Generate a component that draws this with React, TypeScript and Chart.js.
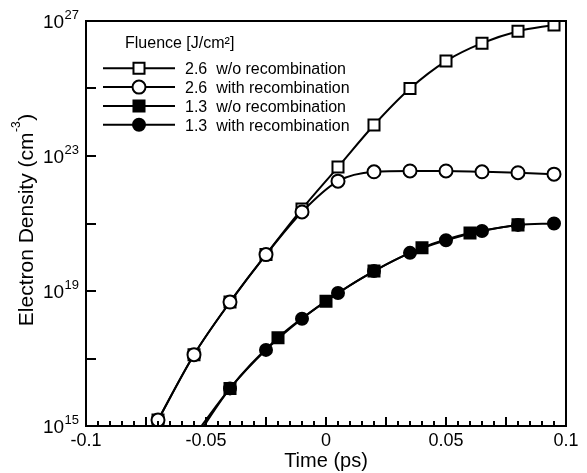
import React, { useEffect, useRef } from 'react';
import { Chart, registerables } from 'chart.js';

Chart.register(...registerables);

// ---- Data (time in ps, electron density in cm^-3) ----
// Fluence 2.6 J/cm^2
const time26 = [-0.085, -0.07, -0.055, -0.04, -0.025, -0.01, 0.005, 0.02, 0.035, 0.05, 0.065, 0.08, 0.095];
const density26NoRecomb = [1.6e13, 1.5e15, 1.3e17, 4.7e18, 1.2e20, 2.7e21, 4.7e22, 8.3e23, 1.0e25, 6.5e25, 2.2e26, 5.0e26, 7.6e26];
const density26Recomb = [1.6e13, 1.5e15, 1.3e17, 4.7e18, 1.2e20, 2.2e21, 1.8e22, 3.4e22, 3.6e22, 3.6e22, 3.4e22, 3.2e22, 2.9e22];
// Fluence 1.3 J/cm^2
const time13NoRecomb = [-0.06, -0.04, -0.02, 0, 0.02, 0.04, 0.06, 0.08];
const density13NoRecomb = [1.0e14, 1.3e16, 4.1e17, 5.0e18, 3.9e19, 1.9e20, 5.2e20, 9.1e20];
const time13Recomb = [-0.055, -0.04, -0.025, -0.01, 0.005, 0.02, 0.035, 0.05, 0.065, 0.08, 0.095];
const density13Recomb = [5.0e14, 1.3e16, 1.8e17, 1.5e18, 8.7e18, 3.9e19, 1.35e20, 3.2e20, 6.0e20, 9.1e20, 1.0e21];

const legendTitle = 'Fluence [J/cm²]';
const legendLabels = [
  '2.6  w/o recombination',
  '2.6  with recombination',
  '1.3  w/o recombination',
  '1.3  with recombination',
];

const xMin = -0.1;
const xMax = 0.1;
const xLabelStep = 0.05;
const xMajorStep = 0.025;
const xMinorStep = 0.005;
const yMin = 1e15;
const yMax = 1e27;
const yLabelExponents = [15, 19, 23, 27];
const yMinorExponents = [17, 21, 25];

const xTitle = 'Time (ps)';
const yTitleMain = 'Electron Density (cm';
const yTitleSup = '-3';
const yTitleEnd = ')';

const FONT = "'Liberation Sans', Arial, Helvetica, sans-serif";

const toPoints = (xs: number[], ys: number[]) => xs.map((x, i) => ({ x, y: ys[i] }));

const decorations = {
  id: 'decorations',
  afterDraw(chart: any) {
    const { ctx, chartArea: a, scales } = chart;
    const xs = scales.x;
    const ys = scales.y;
    ctx.save();
    ctx.strokeStyle = '#000';
    ctx.fillStyle = '#000';

    // x ticks (inward)
    ctx.lineWidth = 2;
    const n = Math.round((xMax - xMin) / xMinorStep);
    const per = Math.round(xMajorStep / xMinorStep);
    for (let i = 0; i <= n; i++) {
      const v = xMin + i * xMinorStep;
      const px = Math.round(xs.getPixelForValue(v));
      const len = i % per === 0 ? 9 : 5;
      ctx.beginPath();
      ctx.moveTo(px, a.bottom);
      ctx.lineTo(px, a.bottom - len);
      ctx.stroke();
    }
    // y ticks (inward)
    [...yLabelExponents, ...yMinorExponents].forEach((e) => {
      const py = Math.round(ys.getPixelForValue(Math.pow(10, e)));
      ctx.beginPath();
      ctx.moveTo(a.left, py);
      ctx.lineTo(a.left + 10, py);
      ctx.stroke();
    });

    // frame
    ctx.lineWidth = 2;
    ctx.strokeRect(Math.round(a.left), Math.round(a.top), Math.round(a.right - a.left), Math.round(a.bottom - a.top));

    // y tick labels 10^n
    ctx.textBaseline = 'alphabetic';
    yLabelExponents.forEach((e) => {
      const py = ys.getPixelForValue(Math.pow(10, e));
      const expStr = String(e);
      ctx.font = `13px ${FONT}`;
      const we = ctx.measureText(expStr).width;
      const xe = a.left - 7 - we;
      ctx.textAlign = 'left';
      ctx.fillText(expStr, xe, py - 2);
      ctx.font = `19px ${FONT}`;
      ctx.textAlign = 'right';
      ctx.fillText('10', xe - 0.5, py + 7);
    });

    // y axis title with superscript
    ctx.save();
    ctx.translate(33, (a.top + a.bottom) / 2 - 3);
    ctx.rotate(-Math.PI / 2);
    ctx.textAlign = 'left';
    ctx.font = `21px ${FONT}`;
    const w1 = ctx.measureText(yTitleMain).width;
    const w3 = ctx.measureText(yTitleEnd).width;
    ctx.font = `12px ${FONT}`;
    const w2 = ctx.measureText(yTitleSup).width;
    let sx = -(w1 + w2 + w3) / 2;
    ctx.font = `21px ${FONT}`;
    ctx.fillText(yTitleMain, sx, 0);
    sx += w1 + 0.5;
    ctx.font = `12px ${FONT}`;
    ctx.fillText(yTitleSup, sx, -13);
    sx += w2 + 0.5;
    ctx.font = `21px ${FONT}`;
    ctx.fillText(yTitleEnd, sx, 0);
    ctx.restore();

    // legend
    ctx.font = `16px ${FONT}`;
    ctx.textAlign = 'left';
    ctx.fillText(legendTitle, a.left + 39, a.top + 27);
    const datasets = chart.data.datasets;
    legendLabels.forEach((label, i) => {
      const ds = datasets[i];
      const cy = a.top + 47.3 + i * 18.8;
      const lx0 = a.left + 17;
      const lx1 = a.left + 89;
      const mx = a.left + 53;
      ctx.lineWidth = 2;
      ctx.strokeStyle = '#000';
      ctx.beginPath();
      ctx.moveTo(lx0, cy);
      ctx.lineTo(lx1, cy);
      ctx.stroke();
      ctx.fillStyle = ds.pointBackgroundColor;
      ctx.beginPath();
      if (ds.pointStyle === 'rect') {
        const s = Math.SQRT1_2 * ds.pointRadius;
        ctx.rect(mx - s, cy - s, 2 * s, 2 * s);
      } else {
        ctx.arc(mx, cy, ds.pointRadius, 0, Math.PI * 2);
      }
      ctx.fill();
      ctx.lineWidth = ds.pointBorderWidth;
      ctx.stroke();
      ctx.fillStyle = '#000';
      ctx.font = `16px ${FONT}`;
      ctx.fillText(label, a.left + 99, cy + 5.8);
    });
    ctx.restore();
  },
};

export default function App() {
  const ref = useRef<HTMLCanvasElement>(null);
  useEffect(() => {
    const common = {
      borderColor: '#000',
      borderWidth: 2,
      pointBorderColor: '#000',
      pointBorderWidth: 2,
      cubicInterpolationMode: 'monotone',
      fill: false,
    };
    const chart = new Chart(ref.current as HTMLCanvasElement, {
      type: 'line',
      data: {
        datasets: [
          {
            ...common,
            label: legendLabels[0],
            data: toPoints(time26, density26NoRecomb),
            pointStyle: 'rect',
            pointRadius: 7.8,
            pointBackgroundColor: '#fff',
            backgroundColor: '#fff',
            order: 4,
          },
          {
            ...common,
            label: legendLabels[1],
            data: toPoints(time26, density26Recomb),
            pointStyle: 'circle',
            pointRadius: 6.5,
            pointBackgroundColor: '#fff',
            backgroundColor: '#fff',
            order: 3,
          },
          {
            ...common,
            label: legendLabels[2],
            data: toPoints(time13NoRecomb, density13NoRecomb),
            pointStyle: 'rect',
            pointRadius: 7.8,
            pointBackgroundColor: '#000',
            backgroundColor: '#000',
            order: 2,
          },
          {
            ...common,
            label: legendLabels[3],
            data: toPoints(time13Recomb, density13Recomb),
            pointStyle: 'circle',
            pointRadius: 6,
            pointBackgroundColor: '#000',
            backgroundColor: '#000',
            order: 1,
          },
        ] as any,
      },
      options: {
        animation: false,
        responsive: false,
        devicePixelRatio: 1,
        layout: { padding: { left: 0, right: 21, top: 21, bottom: 0 } },
        plugins: { legend: { display: false }, tooltip: { enabled: false } },
        events: [],
        scales: {
          x: {
            type: 'linear',
            min: xMin,
            max: xMax,
            grid: { display: false },
            border: { display: false },
            ticks: {
              stepSize: xLabelStep,
              padding: -4,
              color: '#000',
              maxRotation: 0,
              autoSkip: false,
              font: { family: FONT, size: 18 },
              callback: (v: any) => String(Number(Number(v).toFixed(4))),
            },
            title: {
              display: true,
              text: xTitle,
              color: '#000',
              font: { family: FONT, size: 20 },
              padding: 0,
            },
            afterFit: (s: any) => {
              s.height = 47;
            },
          },
          y: {
            type: 'logarithmic',
            min: yMin,
            max: yMax,
            grid: { display: false },
            border: { display: false },
            ticks: { display: false },
            afterFit: (s: any) => {
              s.width = 86;
            },
          },
        },
      } as any,
      plugins: [decorations],
    });
    return () => chart.destroy();
  }, []);
  return (
    <div style={{ position: 'fixed', left: 0, top: 0, width: 587, height: 473, background: '#fff' }}>
      <canvas ref={ref} width={587} height={473} style={{ display: 'block' }} />
    </div>
  );
}
